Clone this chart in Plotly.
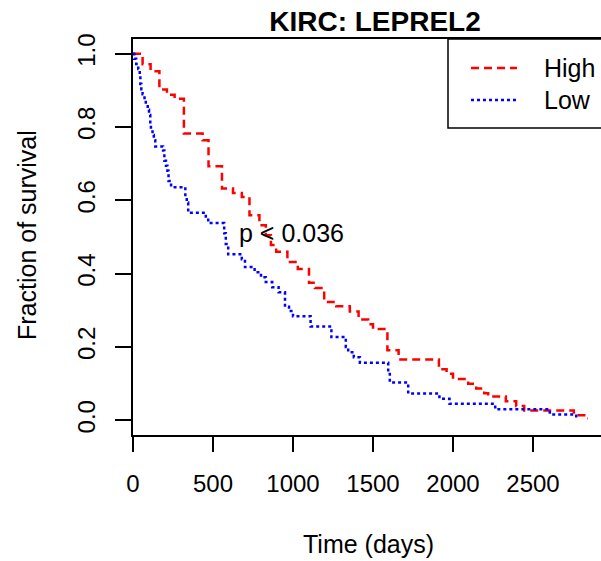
import plotly.graph_objects as go

# Kaplan-Meier steps (time in days, fraction surviving)
high_time = [0, 60, 110, 165, 212, 260, 318, 435, 472, 556,
             625, 680, 728, 790, 830, 862, 895, 965, 1030, 1100,
             1137, 1195, 1270, 1355, 1410, 1470, 1500, 1590, 1660, 1912,
             1960, 2000, 2095, 2145, 2195, 2220, 2330, 2395, 2445, 2755,
             2830, 2842]
high_surv = [1.0, 0.971, 0.952, 0.902, 0.888, 0.877, 0.782, 0.764, 0.693, 0.632,
             0.620, 0.609, 0.559, 0.532, 0.505, 0.478, 0.460, 0.432, 0.413, 0.375,
             0.361, 0.323, 0.311, 0.297, 0.275, 0.262, 0.249, 0.191, 0.166, 0.139,
             0.127, 0.113, 0.100, 0.087, 0.074, 0.065, 0.052, 0.039, 0.027, 0.014,
             0.005, 0.005]

low_time = [0, 8, 20, 33, 42, 46, 52, 60, 72, 80,
            92, 100, 108, 112, 122, 130, 139, 188, 196, 206,
            215, 222, 238, 327, 336, 345, 455, 470, 570, 580,
            595, 680, 700, 760, 800, 830, 870, 910, 950, 975,
            1000, 1110, 1240, 1330, 1345, 1380, 1418, 1595, 1605, 1720,
            1915, 1978, 2264, 2605, 2770, 2776]
low_surv = [1.0, 0.986, 0.972, 0.958, 0.944, 0.917, 0.903, 0.889, 0.875, 0.861,
            0.847, 0.833, 0.806, 0.792, 0.778, 0.764, 0.747, 0.736, 0.708, 0.694,
            0.681, 0.653, 0.636, 0.608, 0.594, 0.566, 0.552, 0.538, 0.510, 0.481,
            0.453, 0.439, 0.418, 0.404, 0.390, 0.377, 0.363, 0.349, 0.310, 0.298,
            0.284, 0.256, 0.227, 0.200, 0.186, 0.172, 0.157, 0.130, 0.103, 0.073,
            0.059, 0.045, 0.030, 0.016, 0.005, 0.005]

x_ticks = [0, 500, 1000, 1500, 2000, 2500]
y_ticks = [0.0, 0.2, 0.4, 0.6, 0.8, 1.0]

title = 'KIRC: LEPREL2'
p_label = 'p < 0.036'
p_pos = (990, 0.51)

# figure geometry (pixels)
W, H = 601, 561
L, R, T, B = 133, 0, 39, 126
FONT = 'Liberation Sans, Arial, Helvetica, sans-serif'
RED_DASH = '8px,5px'
BLUE_DOT = '3px,3px'


def px(x):
    """pixel column -> paper x"""
    return (x - L) / (W - L - R)


def py(y):
    """pixel row -> paper y"""
    return (H - B - y) / (H - T - B)


def plot():
    fig = go.Figure(layout=go.Layout(width=W, height=H))

    # survival curves as step lines
    fig.add_trace(go.Scatter(
        x=high_time, y=high_surv, name='High', mode='lines',
        line=dict(color='red', width=2.5, dash=RED_DASH, shape='hv'),
        showlegend=False))
    fig.add_trace(go.Scatter(
        x=low_time, y=low_surv, name='Low', mode='lines',
        line=dict(color='blue', width=2.5, dash=BLUE_DOT, shape='hv'),
        showlegend=False))

    axis_common = dict(
        ticks='outside', tickcolor='black', tickwidth=1.5,
        showline=True, linecolor='black', linewidth=1.5,
        showgrid=False, zeroline=False,
        tickfont=dict(family=FONT, size=24, color='black'),
    )

    fig.update_layout(
        margin=dict(l=L, r=R, t=T, b=B),
        paper_bgcolor='white', plot_bgcolor='white',
        font=dict(family=FONT, color='black'),
        title=dict(text=f'<b>{title}</b>', x=375 / W, xanchor='center',
                   y=1 - 21 / H, yanchor='middle', yref='container',
                   font=dict(size=28, color='black')),
        xaxis=dict(range=[0, (W - L - R) / 0.16], tickvals=x_ticks,
                   ticklen=15, mirror=True, ticklabelstandoff=11,
                   **axis_common),
        yaxis=dict(range=[-0.04, 1.04], tickvals=y_ticks,
                   ticktext=[f'{v:.1f}' for v in y_ticks], tickangle=-90,
                   ticklen=16, mirror=False, ticklabelstandoff=11,
                   **axis_common),
        showlegend=False,
    )

    # axis titles and p-value
    fig.add_annotation(text='Time (days)', xref='paper', yref='paper',
                       x=px(368), y=py(544), xanchor='center', yanchor='middle',
                       showarrow=False, font=dict(size=25))
    fig.add_annotation(text='Fraction of survival', xref='paper', yref='paper',
                       x=px(27), y=py(235), xanchor='center', yanchor='middle',
                       textangle=-90, showarrow=False, font=dict(size=25))
    fig.add_annotation(text=p_label, x=p_pos[0], y=p_pos[1],
                       xanchor='center', yanchor='middle',
                       showarrow=False, font=dict(size=25))

    # legend box (top right, runs off the right edge like the original)
    fig.add_shape(type='rect', xref='paper', yref='paper',
                  x0=px(448), x1=px(640), y0=py(128), y1=1,
                  line=dict(color='black', width=1.5), fillcolor='white',
                  layer='above')
    legend_rows = [('High', 'red', RED_DASH, 68), ('Low', 'blue', BLUE_DOT, 100)]
    for name, color, dash, row in legend_rows:
        fig.add_shape(type='line', xref='paper', yref='paper',
                      x0=px(471), x1=px(517), y0=py(row), y1=py(row),
                      line=dict(color=color, width=2.5, dash=dash),
                      layer='above')
        fig.add_annotation(text=name, xref='paper', yref='paper',
                           x=px(542), y=py(row), xanchor='left',
                           yanchor='middle', showarrow=False,
                           font=dict(size=25))

    # drop the page's default body margin so the figure sits at (0, 0)
    fig.write_html('out.html', config={'displayModeBar': False},
                   post_script="document.body.style.margin='0';")


if __name__ == '__main__':
    plot()
